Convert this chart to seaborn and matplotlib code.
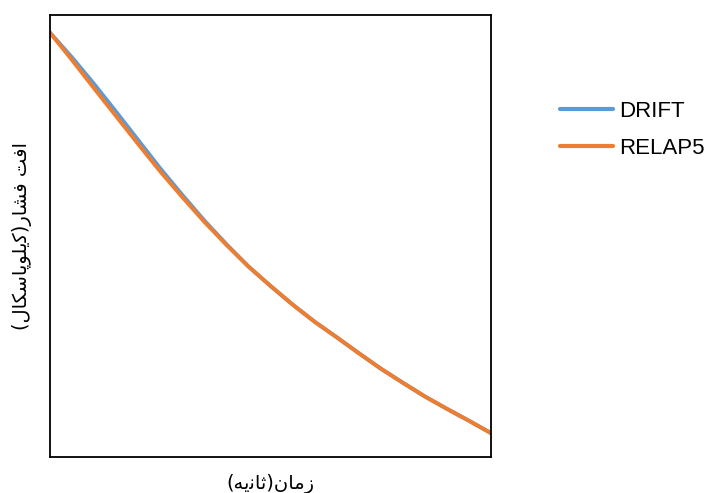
import matplotlib
matplotlib.use("Agg")
import matplotlib.pyplot as plt
import seaborn as sns
import pandas as pd

# ---- data (arbitrary units, no tick labels shown) ----
time_s = [0.0, 0.5, 1.0, 1.5, 2.0, 2.5, 3.0, 3.5, 4.0, 4.5, 5.0,
          5.5, 6.0, 6.5, 7.0, 7.5, 8.0, 8.5, 9.0, 9.5, 10.0]
drift = [96.0, 90.4, 84.4, 78.1, 71.7, 65.3, 59.3, 53.5, 48.15, 43.1, 38.7,
         34.5, 30.6, 27.1, 23.5, 20.0, 16.8, 13.7, 10.9, 8.2, 5.4]
relap5 = [96.0, 89.8, 83.4, 77.1, 70.8, 64.6, 58.8, 53.2, 48.0, 43.1, 38.7,
          34.5, 30.6, 27.1, 23.5, 20.0, 16.8, 13.7, 10.9, 8.2, 5.4]
series_names = ["DRIFT", "RELAP5"]
series_colors = ["#5B9BD5", "#ED7D31"]

# Persian labels written in visual (left-to-right) order with Arabic presentation forms,
# since matplotlib does not shape right-to-left text.
# logical: "زمان(ثانیه)"
xlabel_text = "(" + "\uFEEA\uFBFE\uFEE7\uFE8E\uFE9B" + ")" + "\uFEE5\uFE8E\uFEE3\uFEAF"
# logical: "افت فشار(کیلوپاسکال)"
ylabel_text = ("(" + "\uFEDD\uFE8E\uFB91\uFEB3\uFE8E\uFB58\uFEEE\uFEE0\uFBFE\uFB90" + ")"
               + "\uFEAD\uFE8E\uFEB8\uFED3" + " " + "\uFE96\uFED3\uFE8D")

df = pd.DataFrame({
    "t": time_s * 2,
    "v": drift + relap5,
    "series": [series_names[0]] * len(time_s) + [series_names[1]] * len(time_s),
})

sns.set_style("white")
plt.rcParams["font.family"] = ["Liberation Sans", "DejaVu Sans"]

fig = plt.figure(figsize=(7.09, 4.93), dpi=100)
ax = fig.add_axes([50 / 709, 36 / 493, 441 / 709, 442 / 493])

sns.lineplot(data=df, x="t", y="v", hue="series", hue_order=series_names,
             palette=series_colors, linewidth=2.8, ax=ax, legend=True,
             solid_capstyle="round", solid_joinstyle="round")

ax.set_xlim(0, 10)
ax.set_ylim(0, 100)
ax.set_xticks([])
ax.set_yticks([])
for s in ax.spines.values():
    s.set_color("black")
    s.set_linewidth(1.3)

ax.set_xlabel(xlabel_text, family=["DejaVu Sans"], fontsize=14, color="black", labelpad=12)
ax.set_ylabel(ylabel_text, family=["DejaVu Sans"], fontsize=14, color="black", labelpad=13)

leg = ax.legend(loc="upper left", bbox_to_anchor=(560 / 709, 1 - 101 / 493),
                bbox_transform=fig.transFigure, frameon=False, fontsize=16,
                handlelength=2.4, handletextpad=0.25, labelspacing=0.72,
                borderpad=0, borderaxespad=0)
for line in leg.get_lines():
    line.set_linewidth(3.0)
for txt in leg.get_texts():
    txt.set_color("black")

fig.savefig("out.png", dpi=100)
